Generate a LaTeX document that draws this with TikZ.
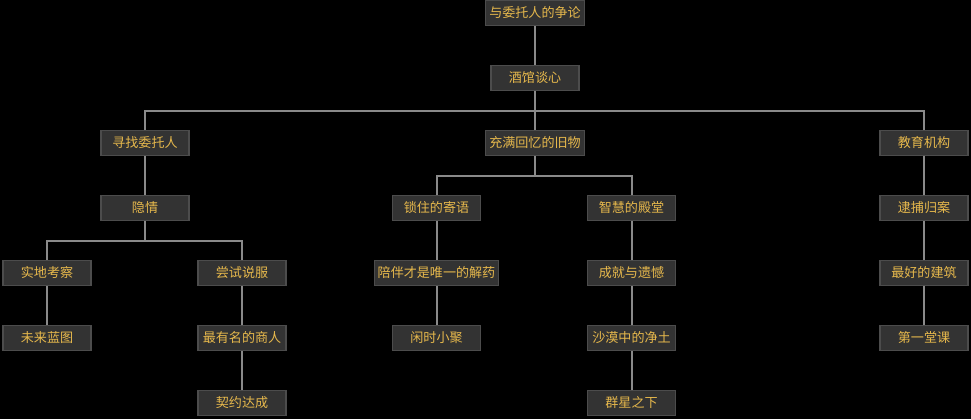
\documentclass[tikz,border=0pt]{standalone}
\usepackage{fontspec}
\newfontfamily\cjk{Noto Sans CJK SC}
\usepackage{tikz}
\usetikzlibrary{positioning,calc}
\definecolor{cBg}{HTML}{000000}
\definecolor{cBox}{HTML}{333333}
\definecolor{cEdge}{HTML}{4C4C4C}
\definecolor{cLine}{HTML}{8A8A8A}
\definecolor{cText}{HTML}{E6B84C}

\begin{document}
\begin{tikzpicture}[
  x=0.75pt,y=-0.75pt,
  font=\cjk\fontsize{9.8pt}{11pt}\selectfont,
  box/.style={draw=cEdge,fill=cBox,line width=0.8pt,text=cText,
              minimum width=66pt,minimum height=18.6pt,inner sep=2.6pt,align=center},
  lnk/.style={draw=cLine,line width=1.5pt},
]
\fill[cBg] (0,0) rectangle (971,419);

% top
\node[box] (root) at (535,12.5) {与委托人的争论};
\node[box] (bar)  at (535,77.5) {酒馆谈心};

% level 2
\node[box] (seek)  at (145,142.5) {寻找委托人};
\node[box] (old)   at (535,142.5) {充满回忆的旧物};
\node[box] (edu)   at (924,142.5) {教育机构};

% left branch
\node[box] (hid)   at (145,207.5) {隐情};
\node[box] (field) at (47,272.5)  {实地考察};
\node[box] (plan)  at (47,337.5)  {未来蓝图};
\node[box] (pers)  at (242,272.5) {尝试说服};
\node[box] (merch) at (242,337.5) {最有名的商人};
\node[box] (deal)  at (242,402.5) {契约达成};

% middle branch
\node[box] (lock)  at (436.5,207.5) {锁住的寄语};
\node[box] (comp)  at (436.5,272.5) {陪伴才是唯一的解药};
\node[box] (gath)  at (436.5,337.5) {闲时小聚};
\node[box] (wis)   at (631.5,207.5) {智慧的殿堂};
\node[box] (achv)  at (631.5,272.5) {成就与遗憾};
\node[box] (des)   at (631.5,337.5) {沙漠中的净土};
\node[box] (star)  at (631.5,402.5) {群星之下};

% right branch
\node[box] (arr)   at (924,207.5) {逮捕归案};
\node[box] (bld)   at (924,272.5) {最好的建筑};
\node[box] (lsn)   at (924,337.5) {第一堂课};

% connectors
\draw[lnk] (root) -- (bar);
\foreach \c in {seek,old,edu}
  \draw[lnk] (bar.south) -- ++(0,20) -| (\c.north);
\draw[lnk] (seek) -- (hid);
\foreach \c in {field,pers}
  \draw[lnk] (hid.south) -- ++(0,20) -| (\c.north);
\draw[lnk] (field) -- (plan);
\draw[lnk] (pers) -- (merch);
\draw[lnk] (merch) -- (deal);
\foreach \c in {lock,wis}
  \draw[lnk] (old.south) -- ++(0,20) -| (\c.north);
\draw[lnk] (lock) -- (comp);
\draw[lnk] (comp) -- (gath);
\draw[lnk] (wis) -- (achv);
\draw[lnk] (achv) -- (des);
\draw[lnk] (des) -- (star);
\draw[lnk] (edu) -- (arr);
\draw[lnk] (arr) -- (bld);
\draw[lnk] (bld) -- (lsn);
\end{tikzpicture}
\end{document}
